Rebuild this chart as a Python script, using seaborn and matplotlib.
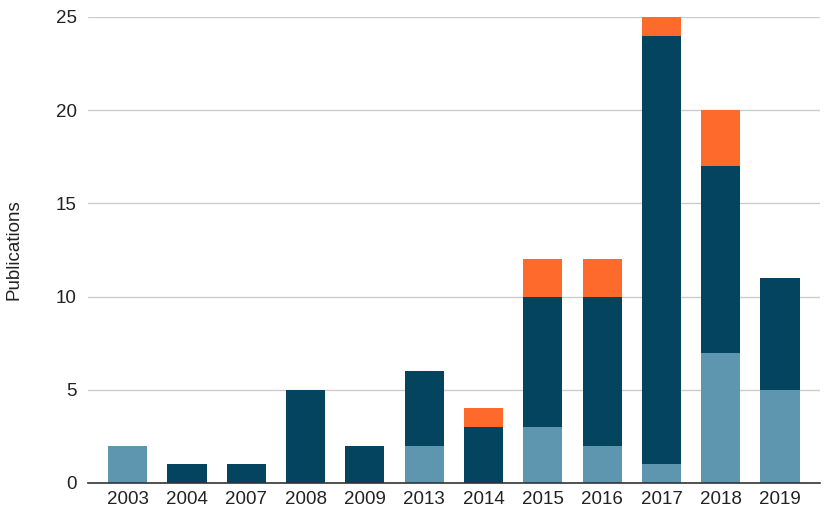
import matplotlib
matplotlib.use('Agg')
import matplotlib.pyplot as plt
import seaborn as sb
import numpy as np

years = ['2003', '2004', '2007', '2008', '2009', '2013', '2014', '2015', '2016', '2017', '2018', '2019']
light = [2, 0, 0, 0, 0, 2, 0, 3, 2, 1, 7, 5]
dark = [0, 1, 1, 5, 2, 4, 3, 7, 8, 23, 10, 6]
orange = [0, 0, 0, 0, 0, 0, 1, 2, 2, 1, 3, 0]

sb.set_style('white')
plt.rcParams['font.family'] = ['Liberation Sans', 'DejaVu Sans']

fig = plt.figure(figsize=(8.26, 5.13), dpi=100)
ax = fig.add_axes([0.1065, 0.0585, 0.886, 0.9084])

light_a = np.array(light)
dark_a = np.array(dark)
bar_kw = dict(width=0.66, saturation=1, ax=ax, zorder=3, linewidth=0)
sb.barplot(x=years, y=light, color='#5e95af', **bar_kw)
sb.barplot(x=years, y=dark, bottom=light_a, color='#05445f', **bar_kw)
sb.barplot(x=years, y=orange, bottom=light_a + dark_a, color='#fd6a2b', **bar_kw)

ax.set_xlim(-0.67, 11.67)
ax.set_ylim(0, 25)
ax.set_yticks([0, 5, 10, 15, 20, 25])
ax.yaxis.grid(True, color='#cccccc', linewidth=1, zorder=0)
ax.set_axisbelow(True)
for s in ['top', 'right', 'left']:
    ax.spines[s].set_visible(False)
ax.spines['bottom'].set_color('#333333')
ax.spines['bottom'].set_linewidth(1.2)
ax.spines['bottom'].set_zorder(4)
ax.tick_params(axis='both', length=0, labelsize=13.5, colors='#222222')
ax.tick_params(axis='y', pad=8)
ax.tick_params(axis='x', pad=6)
ax.set_xlabel('')
ax.set_ylabel('Publications', fontsize=13.5, color='#222222', labelpad=24)

fig.savefig('out.png', dpi=100)
